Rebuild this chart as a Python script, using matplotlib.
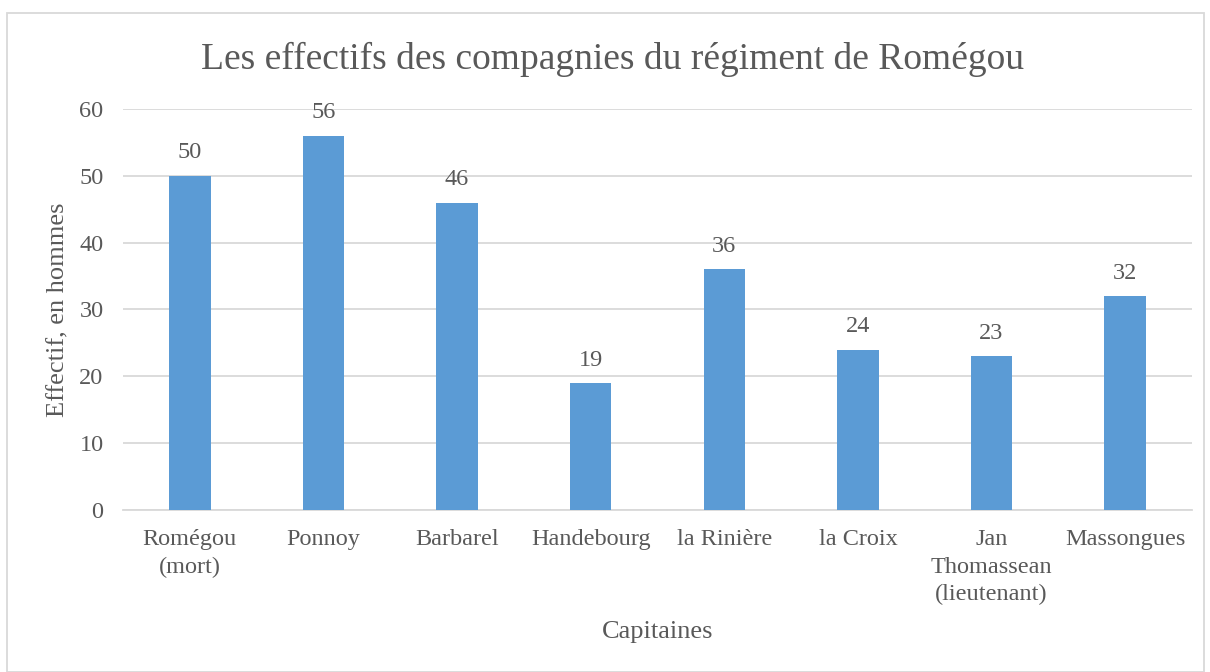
import matplotlib.pyplot as plt
from matplotlib.patches import Rectangle

capitaines = ['Romégou\n(mort)', 'Ponnoy', 'Barbarel', 'Handebourg', 'la Rinière',
              'la Croix', 'Jan\nThomassean\n(lieutenant)', 'Massongues']
effectifs = [50, 56, 46, 19, 36, 24, 23, 32]
yticks = [0, 10, 20, 30, 40, 50, 60]

gris = '#595959'
plt.rcParams['font.family'] = ['Liberation Serif', 'DejaVu Serif']

fig = plt.figure(figsize=(12.1, 6.72), dpi=100)
ax = fig.add_axes([0.1017, 0.2411, 0.8834, 0.5967])

x = range(len(capitaines))
barres = ax.bar(x, effectifs, width=0.31, color='#5b9bd5', zorder=3)
for b, v in zip(barres, effectifs):
    ax.annotate(str(v), (b.get_x() + b.get_width() / 2, v), xytext=(0, 9),
                textcoords='offset points', ha='center', va='bottom',
                fontsize=17.5, color=gris)

ax.set_xlim(-0.5, len(capitaines) - 0.5)
ax.set_ylim(0, 60)
ax.set_yticks(yticks)
ax.set_xticks(list(x))
ax.set_xticklabels(capitaines, fontsize=17.5, color=gris, linespacing=1.4)
ax.tick_params(axis='y', labelsize=17.5, labelcolor=gris, length=0, pad=14)
ax.tick_params(axis='x', length=0, pad=14)
ax.grid(axis='y', color='#d9d9d9', linewidth=1.3, zorder=0)
for s in ['top', 'right', 'left']:
    ax.spines[s].set_visible(False)
ax.spines['bottom'].set_color('#d9d9d9')
ax.spines['bottom'].set_linewidth(1.3)

ax.set_ylabel('Effectif, en hommes', fontsize=19, color=gris, labelpad=7)
fig.text(0.5436, 0.059, 'Capitaines', fontsize=19, color=gris, ha='center', va='center')
fig.text(0.5066, 0.912, 'Les effectifs des compagnies du régiment de Romégou',
         fontsize=27, color=gris, ha='center', va='center')

fig.patches.append(Rectangle((7 / 1210, 0), 1197 / 1210, 659 / 672,
                             transform=fig.transFigure, fill=False,
                             edgecolor='#d9d9d9', linewidth=1.3))

fig.savefig('out.png', dpi=100)
